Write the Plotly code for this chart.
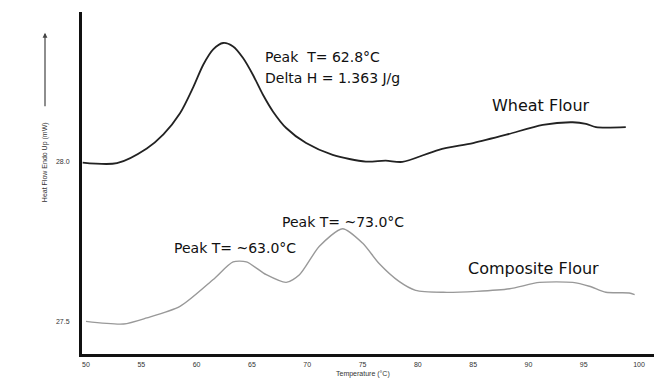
import plotly.graph_objects as go

# Wheat flour DSC trace (temperature °C, heat flow mW)
wheat_t = [49.7, 52.8, 55.5, 57.0, 58.5, 59.7, 60.6, 61.5, 62.4, 63.3, 64.2, 65.1, 66.0,
           66.9, 68.1, 69.9, 72.3, 75.3, 77.1, 78.6, 81.9, 85.0, 88.0, 91.3, 94.0, 95.2,
           96.1, 98.8]
wheat_hf = [27.996, 27.994, 28.040, 28.084, 28.150, 28.232, 28.302, 28.350, 28.370, 28.359,
            28.323, 28.270, 28.208, 28.156, 28.104, 28.057, 28.020, 27.999, 28.002, 27.998,
            28.036, 28.057, 28.083, 28.114, 28.122, 28.117, 28.107, 28.107]

# Composite flour DSC trace
comp_t = [50.0, 53.4, 55.5, 58.5, 61.5, 63.3, 64.5, 66.3, 68.1, 69.3, 71.1, 73.2, 75.0,
          76.5, 78.3, 79.8, 82.3, 85.3, 88.3, 91.0, 94.0, 95.5, 97.0, 99.1, 99.6]
comp_hf = [27.499, 27.491, 27.510, 27.546, 27.630, 27.685, 27.685, 27.645, 27.621, 27.645,
           27.734, 27.789, 27.744, 27.680, 27.624, 27.596, 27.590, 27.593, 27.601, 27.621,
           27.621, 27.609, 27.590, 27.588, 27.583]

x_ticks = [50, 55, 60, 65, 70, 75, 80, 85, 90, 95, 100]
y_ticks = [27.5, 28.0]
y_tick_labels = ["27.5", "28.0"]

fig = go.Figure()
fig.add_trace(go.Scatter(x=wheat_t, y=wheat_hf, mode="lines",
                         line=dict(color="#222222", width=1.8, shape="spline", smoothing=0.8),
                         showlegend=False, hoverinfo="skip"))
fig.add_trace(go.Scatter(x=comp_t, y=comp_hf, mode="lines",
                         line=dict(color="#999999", width=1.4, shape="spline", smoothing=0.7),
                         showlegend=False, hoverinfo="skip"))

anns = [
    (65.97, 28.327, "Peak  T= 62.8°C", 14),
    (65.97, 28.261, "Delta H = 1.363 J/g", 14),
    (86.55, 28.176, "Wheat Flour", 16),
    (67.5, 27.811, "Peak T= ~73.0°C", 14),
    (57.76, 27.730, "Peak T= ~63.0°C", 14),
    (84.39, 27.664, "Composite Flour", 16),
]
annotations = [dict(x=x, y=y, xref="x", yref="y", text=t, showarrow=False,
                    xanchor="left", yanchor="middle",
                    font=dict(family="DejaVu Sans, sans-serif", size=s, color="#111111"))
               for x, y, t, s in anns]

# axis titles
annotations.append(dict(x=0.491, y=0, xref="paper", yref="paper", yshift=-20,
                        text="Temperature (°C)", showarrow=False, xanchor="center",
                        yanchor="middle", font=dict(family="Liberation Sans, Arial", size=7, color="#333")))
annotations.append(dict(x=0, y=0.561, xref="paper", yref="paper", xshift=-37,
                        text="Heat Flow Endo Up (mW)", showarrow=False, textangle=-90,
                        xanchor="center", yanchor="middle",
                        font=dict(family="Liberation Sans, Arial", size=7, color="#333")))
# arrow above the y title
annotations.append(dict(x=0, y=0.939, xref="paper", yref="paper", xshift=-37,
                        ax=0, ay=75, axref="pixel", ayref="pixel", text="", showarrow=True,
                        arrowhead=2, arrowsize=0.8, arrowwidth=1.2, arrowcolor="#444"))

fig.update_layout(
    width=663, height=378,
    margin=dict(l=82, r=9, t=12, b=24),
    paper_bgcolor="white", plot_bgcolor="white",
    annotations=annotations,
    xaxis=dict(range=[49.64, 101.35], tickvals=x_ticks, ticktext=[str(v) for v in x_ticks],
               showline=True, linecolor="#111", linewidth=3, showgrid=False, zeroline=False,
               ticks="", ticklabelstandoff=2,
               tickfont=dict(family="Liberation Sans, Arial", size=7, color="#333")),
    yaxis=dict(range=[27.397, 28.467], tickvals=y_ticks, ticktext=y_tick_labels,
               showline=True, linecolor="#111", linewidth=3, showgrid=False, zeroline=False,
               ticks="", ticklabelstandoff=8,
               tickfont=dict(family="Liberation Sans, Arial", size=7, color="#333")),
)

fig.write_html("out.html")
